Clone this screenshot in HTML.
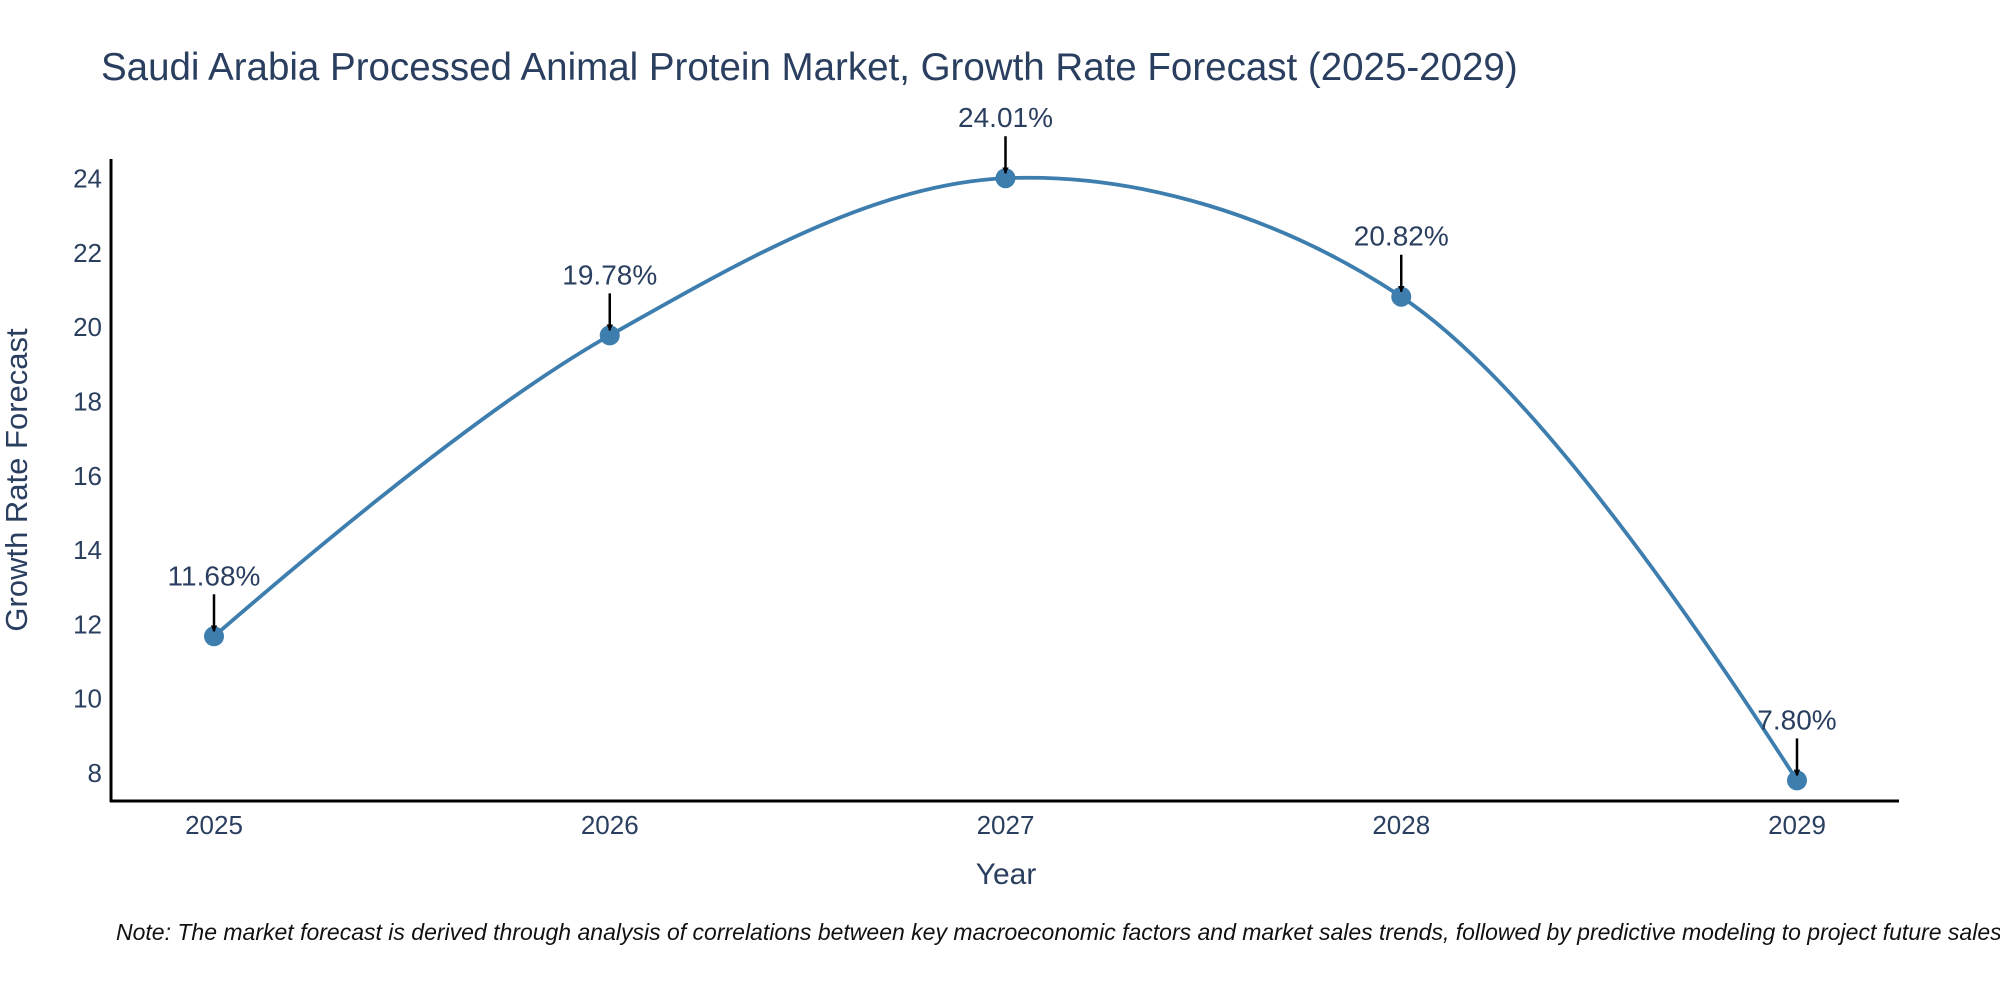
<!DOCTYPE html>
<html><head><meta charset="utf-8">
<style>
body{margin:0;background:#fff;}
svg{display:block;font-family:"Liberation Sans",Arial,sans-serif;}
</style></head>
<body>
<svg width="2000" height="1000" viewBox="0 0 2000 1000">
<defs>
<marker id="ah" viewBox="0 0 10 10" refX="9" refY="5" markerWidth="6.5" markerHeight="6.5" markerUnits="userSpaceOnUse" orient="auto">
<path d="M0,0 L10,5 L0,10 z" fill="#000"/>
</marker>
</defs>
<text x="101" y="80" font-size="38.5" fill="#2a3f5f">Saudi Arabia Processed Animal Protein Market, Growth Rate Forecast (2025-2029)</text>
<g id="yticks"></g>
<g id="xticks"></g>
<line x1="111" y1="159" x2="111" y2="802" stroke="#000" stroke-width="3"/>
<line x1="110" y1="801" x2="1899" y2="801" stroke="#000" stroke-width="3"/>
<path id="line" fill="none" stroke="#3d7eaf" stroke-width="3.8"/>
<g id="pts"></g>
<g id="ann"></g>
<text x="27" y="480" font-size="31" fill="#2a3f5f" text-anchor="middle" transform="rotate(-90 27 480)">Growth Rate Forecast</text>
<text x="1006" y="884" font-size="30" fill="#2a3f5f" text-anchor="middle">Year</text>
<text x="116" y="940" font-size="23" font-style="italic" fill="#111">Note: The market forecast is derived through analysis of correlations between key macroeconomic factors and market sales trends, followed by predictive modeling to project future sales</text>
</svg>
<script>
const years=["2025","2026","2027","2028","2029"];
const values=[11.68,19.78,24.01,20.82,7.80];
const labels=["11.68%","19.78%","24.01%","20.82%","7.80%"];
const yTicks=[8,10,12,14,16,18,20,22,24];
const NS="http://www.w3.org/2000/svg";
function xs(i){return 214+i*(1797-214)/4;}
function ys(v){return 773-(v-8)*(773-178.6)/16;}
function mk(tag,attrs,parent){const e=document.createElementNS(NS,tag);for(const k in attrs)e.setAttribute(k,attrs[k]);parent.appendChild(e);return e;}
const yg=document.getElementById('yticks');
yTicks.forEach(t=>{const e=mk('text',{x:102,y:ys(t)+9,'font-size':26,fill:'#2a3f5f','text-anchor':'end'},yg);


e.textContent=t;});
const xg=document.getElementById('xticks');
years.forEach((y,i)=>{const e=mk('text',{x:xs(i),y:834,'font-size':26,fill:'#2a3f5f','text-anchor':'middle'},xg);


e.textContent=y;});
const P=values.map((v,i)=>[xs(i),ys(v)]);
function tang(a,b,c,s){const d1x=a[0]-b[0],d1y=a[1]-b[1],d2x=c[0]-b[0],d2y=c[1]-b[1];
const d1a=Math.pow(d1x*d1x+d1y*d1y,0.25),d2a=Math.pow(d2x*d2x+d2y*d2y,0.25);
const nx=(d2a*d2a*d1x-d1a*d1a*d2x)*s,ny=(d2a*d2a*d1y-d1a*d1a*d2y)*s;
const den1=3*d2a*(d1a+d2a),den2=3*d1a*(d1a+d2a);
return [[b[0]+nx/den1,b[1]+ny/den1],[b[0]-nx/den2,b[1]-ny/den2]];}
const T=[];for(let i=1;i<P.length-1;i++)T.push(tang(P[i-1],P[i],P[i+1],1));
let d=`M${P[0]} Q${T[0][0]} ${P[1]}`;
for(let i=2;i<P.length-1;i++)d+=` C${T[i-2][1]} ${T[i-1][0]} ${P[i]}`;
d+=` Q${T[P.length-3][1]} ${P[P.length-1]}`;
document.getElementById('line').setAttribute('d',d);
const pg=document.getElementById('pts'),ag=document.getElementById('ann');
P.forEach((p,i)=>{
const c=mk('circle',{cx:p[0],cy:p[1],r:10,fill:'#3d7eaf'},pg);


const l=mk('line',{x1:p[0],y1:p[1]-42,x2:p[0],y2:p[1]-5,stroke:'#000','stroke-width':2.5,'marker-end':'url(#ah)'},ag);


const t=mk('text',{x:p[0],y:p[1]-51,'font-size':28,fill:'#2a3f5f','text-anchor':'middle'},ag);


t.textContent=labels[i];});
</script>
</body></html>
